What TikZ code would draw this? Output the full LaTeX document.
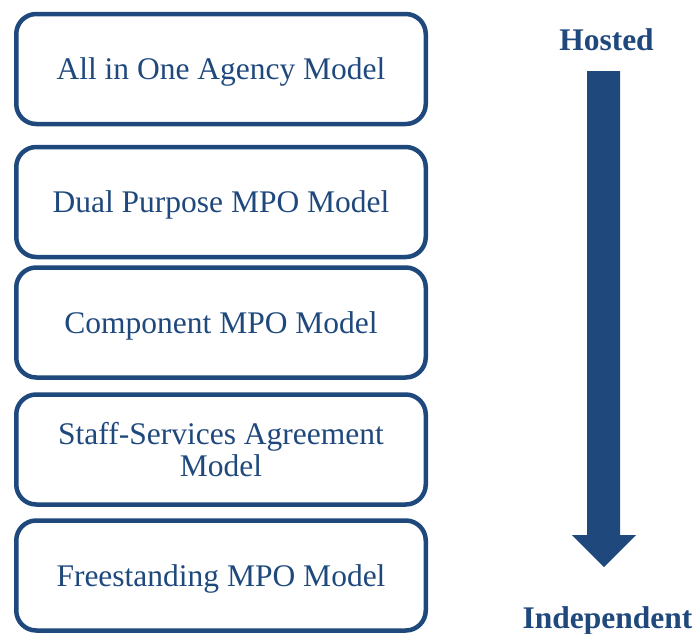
\documentclass[tikz,border=0pt]{standalone}
\usepackage{fontspec}
\setmainfont{Liberation Serif}
\definecolor{dblue}{RGB}{31,73,125}
\begin{document}
\begin{tikzpicture}[x=1pt,y=-1pt,
  modelbox/.style={draw=dblue, line width=4.5pt, rounded corners=20pt,
    minimum width=409.5pt, minimum height=110pt, inner sep=0pt,
    text=dblue, font=\fontsize{31.5}{32}\selectfont, align=center,
    text height=21pt, text depth=0pt},
  twoline/.style={text height=, text depth=},
  endlabel/.style={text=dblue, font=\fontsize{31.5}{32}\selectfont\bfseries,
    anchor=base, inner sep=0pt}]
\useasboundingbox (0,0) rectangle (697,633);
\node[modelbox] (m1) at (221,69) {All in One Agency Model};
\node[modelbox] (m2) at (221,202) {Dual Purpose MPO Model};
\node[modelbox] (m3) at (221,322.5) {Component MPO Model};
\node[modelbox, twoline] (m4) at (221,449.5) {Staff-Services Agreement\\Model};
\node[modelbox] (m5) at (221,575.5) {Freestanding MPO Model};
\node[endlabel] (hosted) at (606.5,50) {Hosted};
\node[endlabel] (indep) at (607.5,628) {Independent};
\fill[dblue] (587,71) -- (620,71) -- (620,535) -- (636,535) -- (604,567)
  -- (572,535) -- (587,535) -- cycle;
\end{tikzpicture}
\end{document}
